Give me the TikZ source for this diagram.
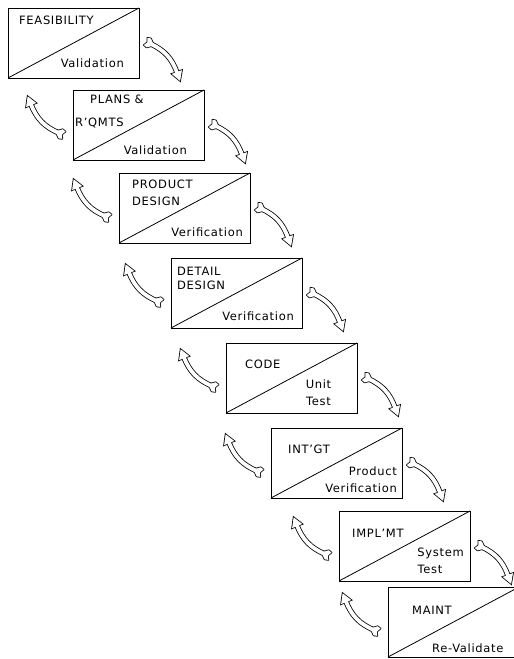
\documentclass[tikz,border=0pt]{standalone}
\usepackage{fontspec}
\setmainfont{DejaVu Sans}[LetterSpace=6]
\usetikzlibrary{calc,decorations.markings}

\tikzset{
  x=1pt, y=1pt,
  stage/.style={draw, line width=0.9pt, minimum width=131pt, minimum height=70pt,
    inner sep=0pt, outer sep=0pt, anchor=north west},
  split/.style={line width=0.8pt},
  lbl/.style={inner sep=0pt, font=\fontsize{11.5}{13}\selectfont},
  % hollow curved arrow: a black pass, then a white pass on top of it
  flowout/.style={line width=5.4pt, draw=black, postaction={decorate, decoration={markings,
    mark=at position 0 with {\filldraw[black, line width=1.6pt, line join=round]
      (1,2) -- (-2.5,5) -- (-6,4) -- (-4,0) -- (-6,-4) -- (-2.5,-5) -- (1,-2) -- cycle;},
    mark=at position 1 with {\filldraw[black, line width=1.6pt, line join=miter]
      (-0.5,5.5) -- (9,0) -- (-0.5,-5.5) -- cycle;}}}},
  flowin/.style={line width=3.8pt, draw=white, postaction={decorate, decoration={markings,
    mark=at position 0 with {\fill[white]
      (1,2) -- (-2.5,5) -- (-6,4) -- (-4,0) -- (-6,-4) -- (-2.5,-5) -- (1,-2) -- cycle;},
    mark=at position 1 with {\fill[white]
      (-0.5,5.5) -- (9,0) -- (-0.5,-5.5) -- cycle;}}}},
}
\newcommand\flowarc[2]{%
  \draw[flowout] (#1) to[bend left=22] (#2);
  \draw[flowin] (#1) to[bend left=22] (#2);}

\begin{document}
\begin{tikzpicture}
\useasboundingbox (0,0) rectangle (514,-659);
\clip (0,0) rectangle (514,-659);

% stages
\node[stage] (b1) at (8,-8) {};
\node[stage] (b2) at (73,-90) {};
\node[stage] (b3) at (119,-173) {};
\node[stage] (b4) at (171,-258) {};
\node[stage] (b5) at (226,-343) {};
\node[stage] (b6) at (271,-428) {};
\node[stage] (b7) at (339,-511) {};
\node[stage] (b8) at (388,-587) {};
\foreach \i in {1,...,8}{\draw[split] (b\i.south west) -- (b\i.north east);}

% stage texts
\node[lbl, anchor=base west] (l1a) at ($(b1.north west)+(11,-16)$) {FEASIBILITY};
\node[lbl, anchor=base east] (l1b) at ($(b1.south east)+(-15,11)$) {Validation};

\node[lbl, anchor=base west] (l2a) at ($(b2.north west)+(17,-13)$) {PLANS \&};
\node[lbl, anchor=base west] (l2b) at ($(b2.north west)+(2,-36)$) {R'QMTS};
\node[lbl, anchor=base east] (l2c) at ($(b2.south east)+(-17,6)$) {Validation};

\node[lbl, anchor=base west] (l3a) at ($(b3.north west)+(13,-15)$) {PRODUCT};
\node[lbl, anchor=base west] (l3b) at ($(b3.north west)+(13,-32)$) {DESIGN};
\node[lbl, anchor=base east] (l3c) at ($(b3.south east)+(-7,7)$) {Verification};

\node[lbl, anchor=base west] (l4a) at ($(b4.north west)+(6,-17)$) {DETAIL};
\node[lbl, anchor=base west] (l4b) at ($(b4.north west)+(6,-31)$) {DESIGN};
\node[lbl, anchor=base east] (l4c) at ($(b4.south east)+(-8,8)$) {Verification};

\node[lbl, anchor=base west] (l5a) at ($(b5.north west)+(19,-25)$) {CODE};
\node[lbl, anchor=base] (l5b) at ($(b5.north west)+(92.5,-45)$) {Unit};
\node[lbl, anchor=base] (l5c) at ($(b5.north west)+(92.5,-62)$) {Test};

\node[lbl, anchor=base west] (l6a) at ($(b6.north west)+(17,-25)$) {INT'GT};
\node[lbl, anchor=base east] (l6b) at ($(b6.north east)+(-5,-47)$) {Product};
\node[lbl, anchor=base east] (l6c) at ($(b6.north east)+(-5,-64)$) {Verification};

\node[lbl, anchor=base west] (l7a) at ($(b7.north west)+(13,-26)$) {IMPL'MT};
\node[lbl, anchor=base east] (l7b) at ($(b7.north east)+(-6,-45)$) {System};
\node[lbl, anchor=base] (l7c) at ($(b7.north west)+(91,-62)$) {Test};

\node[lbl, anchor=base west] (l8a) at ($(b8.north west)+(24,-27)$) {MAINT};
\node[lbl, anchor=base west] (l8b) at ($(b8.north west)+(44,-65)$) {Re-Validate};

% arrow ends
\foreach \i in {1,...,7}{
  \coordinate (fs\i) at ($(b\i.north east)+(12,-36)$);
  \coordinate (fe\i) at ($(b\i.south east)+(38,5.5)$);
}
\foreach \j in {2,...,8}{
  \coordinate (bs\j) at ($(b\j.north west)+(-14.6,-42.8)$);
  \coordinate (be\j) at ($(b\j.north west)+(-42,-14.6)$);
}

% forward and backward arrows
\foreach \i in {1,...,7}{\flowarc{fs\i}{fe\i}}
\foreach \j in {2,...,8}{\flowarc{bs\j}{be\j}}
\end{tikzpicture}
\end{document}
